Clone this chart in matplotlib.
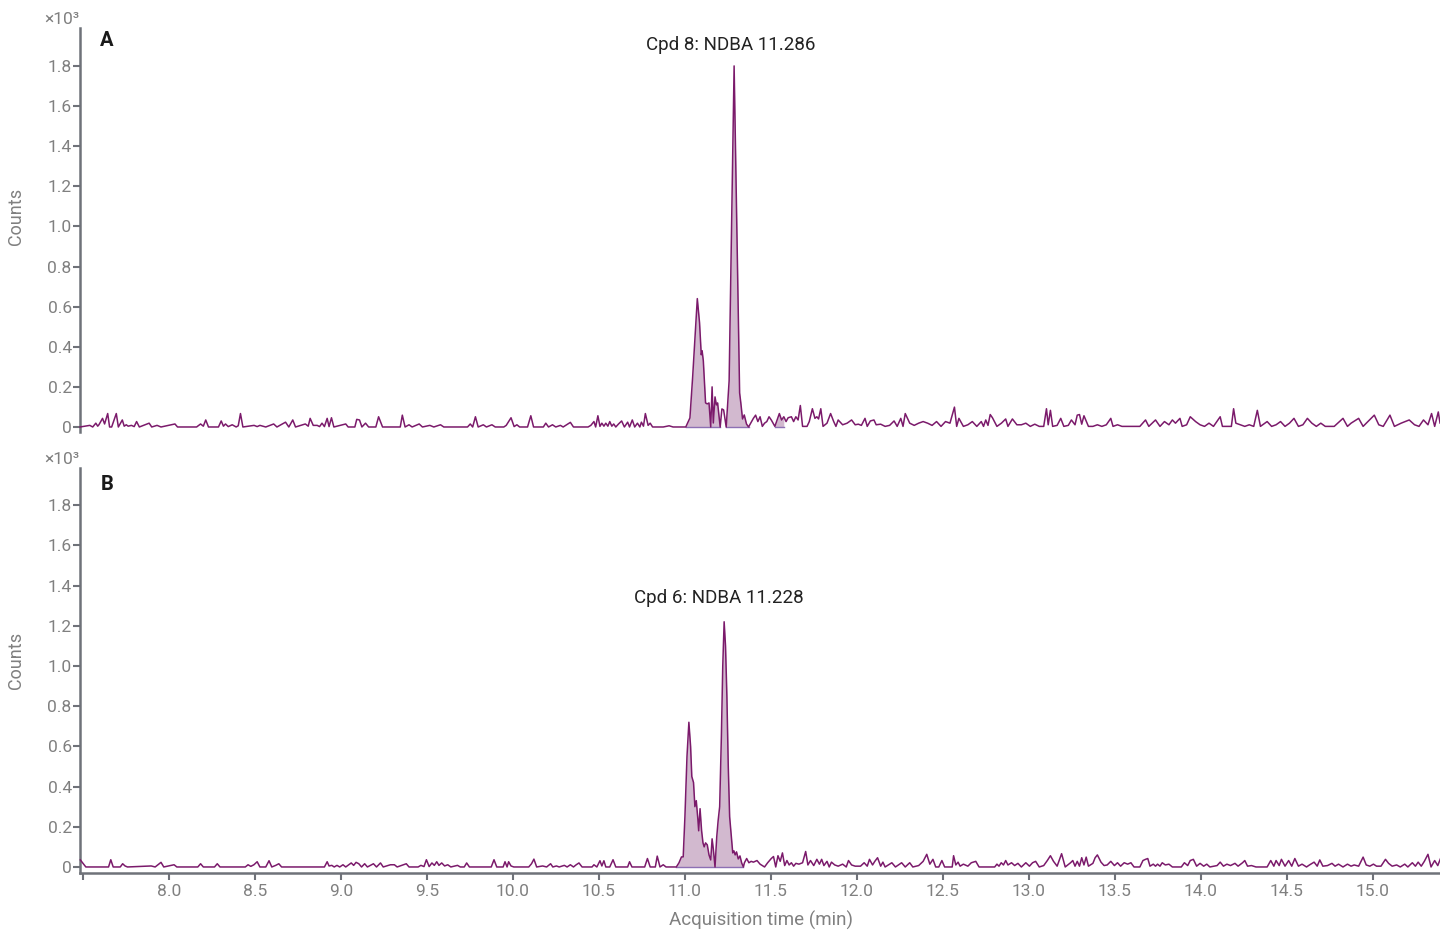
import numpy as np
import matplotlib
matplotlib.use("Agg")
import matplotlib.pyplot as plt

plt.rcParams['font.family'] = ['Roboto', 'DejaVu Sans']

# ---------------- Panel A (Cpd 8: NDBA) ----------------
a_noise_left_t = [7.483, 7.54, 7.557, 7.575, 7.586, 7.593, 7.614, 7.626, 7.644, 7.655, 7.667, 7.694, 7.706,
                  7.729, 7.74, 7.752, 7.763, 7.782, 7.798, 7.812, 7.828, 7.885, 7.9, 7.931, 7.954, 8.035, 8.05,
                  8.161, 8.184, 8.2, 8.214, 8.23, 8.288, 8.304, 8.317, 8.329, 8.345, 8.368, 8.391, 8.403, 8.416,
                  8.43, 8.495, 8.513, 8.529, 8.563, 8.609, 8.628, 8.678, 8.697, 8.72, 8.736, 8.793, 8.81, 8.821,
                  8.839, 8.862, 8.876, 8.89, 8.904, 8.92, 8.931, 8.945, 8.959, 9.028, 9.042, 9.081, 9.092, 9.108,
                  9.122, 9.143, 9.161, 9.203, 9.219, 9.242, 9.345, 9.357, 9.373, 9.396, 9.414, 9.455, 9.474, 9.517,
                  9.54, 9.579, 9.598, 9.736, 9.752, 9.766, 9.782, 9.798, 9.828, 9.846, 9.878, 9.897, 9.947, 9.961,
                  9.989, 10.007, 10.023, 10.039, 10.085, 10.104, 10.12, 10.177, 10.191, 10.207, 10.23, 10.249,
                  10.276, 10.292, 10.334, 10.352, 10.437, 10.453, 10.471, 10.481, 10.494, 10.506, 10.517, 10.529,
                  10.54, 10.552, 10.563, 10.575, 10.586, 10.598, 10.614, 10.632, 10.648, 10.667, 10.678, 10.694,
                  10.708, 10.724, 10.738, 10.747, 10.759, 10.77, 10.786, 10.798, 10.812, 10.874, 10.908, 10.931,
                  10.98]
a_noise_left_c = [0, 8, 0, 19, 4, 11, 43, 15, 67, 0, 0, 67, 0,
                  35, 4, 11, 4, 8, 2, 27, 0, 19, 0, 8, 0, 15, 0,
                  0, 15, 4, 35, 0, 0, 30, 4, 15, 2, 11, 0, 6, 67,
                  0, 8, 2, 8, 0, 15, 0, 24, 0, 35, 0, 15, 4, 43,
                  8, 8, 2, 19, 2, 43, 2, 46, 0, 15, 0, 0, 38, 35,
                  0, 19, 0, 0, 51, 0, 0, 59, 0, 11, 0, 15, 0, 8,
                  0, 11, 0, 0, 15, 0, 51, 0, 11, 0, 11, 0, 0, 8,
                  46, 2, 11, 0, 0, 56, 0, 0, 19, 0, 11, 0,
                  8, 0, 23, 0, 0, 8, 27, 0, 56, 3, 19, 4,
                  19, 4, 27, 4, 15, 0, 15, 30, 0, 24, 0, 35,
                  0, 19, 0, 24, 4, 67, 8, 19, 0, 0, 6, 0,
                  0]

a_peak_t = [11.005, 11.029, 11.045, 11.06, 11.072, 11.085, 11.095, 11.10, 11.107, 11.115, 11.12, 11.13,
            11.14, 11.15, 11.158, 11.165, 11.175, 11.183, 11.19, 11.205, 11.215, 11.225, 11.24, 11.257,
            11.286, 11.318, 11.325, 11.335, 11.345, 11.358, 11.37]
a_peak_c = [0, 45, 250, 470, 640, 520, 360, 380, 330, 200, 120, 115,
            120, 0, 200, 20, 150, 110, 120, 0, 90, 85, 0, 230,
            1800, 170, 120, 40, 60, 15, 0]

a_noise_right_t = [11.398, 11.411, 11.424, 11.437, 11.45, 11.463, 11.476, 11.489, 11.502, 11.523, 11.549, 11.562,
                   11.575, 11.588, 11.6, 11.619, 11.632, 11.645, 11.658, 11.671, 11.684, 11.71, 11.723, 11.741,
                   11.756, 11.767, 11.777, 11.79, 11.803, 11.826, 11.847, 11.865, 11.878, 11.891, 11.917, 11.943,
                   11.969, 11.99, 12.008, 12.026, 12.047, 12.06, 12.078, 12.099, 12.112, 12.138, 12.164, 12.19,
                   12.216, 12.234, 12.255, 12.268, 12.281, 12.307, 12.333, 12.359, 12.385, 12.411, 12.437, 12.463,
                   12.489, 12.515, 12.541, 12.567, 12.58, 12.593, 12.619, 12.645, 12.671, 12.697, 12.723, 12.736,
                   12.749, 12.762, 12.775, 12.788, 12.814, 12.84, 12.865, 12.878, 12.904, 12.93, 12.956, 12.982,
                   13.008, 13.034, 13.06, 13.086, 13.102, 13.112, 13.125, 13.138, 13.164, 13.185, 13.203, 13.229,
                   13.247, 13.268, 13.281, 13.294, 13.307, 13.32, 13.346, 13.372, 13.398, 13.424, 13.45, 13.476,
                   13.489, 13.515, 13.541, 13.645, 13.678, 13.697, 13.736, 13.762, 13.788, 13.814, 13.834, 13.852,
                   13.878, 13.891, 13.917, 13.938, 13.969, 13.995, 14.021, 14.047, 14.073, 14.112, 14.125, 14.177,
                   14.19, 14.203, 14.255, 14.281, 14.307, 14.328, 14.346, 14.385, 14.411, 14.437, 14.463, 14.489,
                   14.515, 14.541, 14.567, 14.593, 14.619, 14.645, 14.671, 14.697, 14.723, 14.775, 14.826, 14.852,
                   14.873, 14.917, 14.943, 15.008, 15.034, 15.06, 15.099, 15.125, 15.164, 15.211, 15.242, 15.268,
                   15.294, 15.32, 15.341, 15.359, 15.38, 15.39]
a_noise_right_c = [43, 59, 27, 51, 3, 19, 27, 51, 35, 3, 67, 35,
                   51, 27, 46, 51, 27, 51, 35, 107, 3, 3, 27, 91,
                   43, 51, 40, 91, 3, 19, 67, 27, 3, 35, 11, 19,
                   35, 11, 14, 8, 43, 3, 30, 35, 11, 14, 3, 8,
                   30, 3, 43, 3, 67, 19, 8, 19, 27, 19, 8, 27,
                   3, 27, 19, 99, 3, 43, 3, 11, 27, 3, 27, 3,
                   35, 8, 62, 46, 3, 19, 40, 3, 40, 11, 11, 19,
                   3, 14, 3, 3, 91, 11, 83, 3, 8, 43, 3, 8,
                   35, 11, 59, 62, 14, 56, 3, 3, 11, 3, 11, 43,
                   3, 11, 3, 3, 35, 3, 35, 3, 27, 11, 35, 19,
                   43, 3, 11, 51, 27, 11, 3, 19, 3, 51, 3, 3,
                   91, 19, 3, 11, 3, 83, 3, 27, 3, 11, 27, 3,
                   19, 43, 3, 11, 43, 19, 3, 19, 3, 3, 43, 3,
                   19, 43, 3, 59, 11, 3, 59, 3, 19, 35, 11, 3,
                   35, 11, 67, 3, 75, 20]

# ---------------- Panel B (Cpd 6: NDBA) ----------------
b_noise_left_t = [7.485, 7.517, 7.649, 7.662, 7.676, 7.717, 7.731, 7.745, 7.759, 7.897, 7.92, 7.954, 7.97,
                  8.03, 8.046, 8.168, 8.184, 8.2, 8.265, 8.281, 8.297, 8.444, 8.46, 8.476, 8.494, 8.513, 8.529,
                  8.563, 8.582, 8.598, 8.621, 8.639, 8.655, 8.904, 8.92, 8.931, 8.947, 8.961, 8.977, 8.993,
                  9.012, 9.028, 9.046, 9.06, 9.074, 9.088, 9.104, 9.12, 9.138, 9.154, 9.189, 9.207, 9.23, 9.246,
                  9.288, 9.311, 9.327, 9.38, 9.396, 9.449, 9.465, 9.483, 9.497, 9.513, 9.529, 9.543, 9.557, 9.57,
                  9.586, 9.603, 9.621, 9.639, 9.678, 9.694, 9.717, 9.731, 9.747, 9.874, 9.89, 9.906, 9.943,
                  9.954, 9.966, 9.975, 9.989, 10.005, 10.092, 10.108, 10.122, 10.138, 10.173, 10.196, 10.219,
                  10.232, 10.253, 10.269, 10.299, 10.315, 10.334, 10.352, 10.368, 10.384, 10.402, 10.46, 10.471,
                  10.488, 10.506, 10.517, 10.529, 10.54, 10.563, 10.582, 10.598, 10.667, 10.678, 10.692, 10.766,
                  10.782, 10.798, 10.828, 10.839, 10.855, 10.874, 10.89, 10.943]
b_noise_left_c = [35, 0, 0, 36, 0, 0, 16, 5, 0, 5, 0, 23, 0,
                  11, 0, 0, 16, 0, 0, 16, 0, 0, 11, 3, 11, 26, 0,
                  0, 31, 0, 8, 16, 0, 0, 26, 5, 8, 0, 8, 0,
                  11, 0, 11, 20, 8, 23, 16, 0, 16, 0, 16, 0, 20, 0,
                  11, 11, 0, 16, 0, 0, 8, 2, 36, 2, 20, 8, 26, 8,
                  20, 5, 11, 0, 8, 0, 0, 20, 0, 0, 36, 0, 0,
                  26, 0, 26, 5, 0, 0, 16, 39, 0, 5, 0, 16,
                  0, 5, 0, 8, 0, 11, 0, 11, 20, 0, 0, 11,
                  0, 31, 5, 31, 0, 0, 36, 0, 0, 26, 0, 0,
                  42, 0, 0, 54, 0, 11, 0, 0]

b_peak_t = [10.95, 10.965, 10.98, 10.99, 11.0, 11.012, 11.023, 11.033, 11.04, 11.05, 11.058, 11.066, 11.075,
            11.08, 11.088, 11.097, 11.105, 11.112, 11.12, 11.13, 11.14, 11.15, 11.158, 11.165, 11.175, 11.185,
            11.193, 11.202, 11.212, 11.22, 11.228, 11.236, 11.244, 11.252, 11.26, 11.27, 11.278, 11.285, 11.292,
            11.30, 11.31, 11.32, 11.33, 11.34]
b_peak_c = [0, 20, 50, 50, 250, 550, 720, 600, 450, 420, 300, 330, 240,
            180, 290, 180, 120, 100, 120, 110, 60, 35, 140, 90, 0, 150,
            230, 300, 650, 1000, 1220, 1100, 850, 500, 250, 150, 70, 80, 60,
            75, 40, 55, 20, 0]

b_noise_right_t = [11.346, 11.359, 11.372, 11.385, 11.398, 11.419, 11.437, 11.463, 11.481, 11.502, 11.515, 11.528,
                   11.541, 11.554, 11.567, 11.58, 11.593, 11.606, 11.619, 11.632, 11.645, 11.663, 11.684, 11.702,
                   11.715, 11.73, 11.749, 11.767, 11.782, 11.795, 11.808, 11.826, 11.839, 11.852, 11.871, 11.891,
                   11.917, 11.938, 11.951, 11.969, 11.99, 12.021, 12.042, 12.06, 12.073, 12.091, 12.104, 12.12,
                   12.138, 12.151, 12.164, 12.203, 12.224, 12.26, 12.281, 12.307, 12.325, 12.359, 12.385, 12.406,
                   12.424, 12.442, 12.458, 12.476, 12.494, 12.51, 12.554, 12.562, 12.575, 12.588, 12.6, 12.619,
                   12.645, 12.665, 12.691, 12.71, 12.801, 12.814, 12.826, 12.839, 12.852, 12.865, 12.878, 12.899,
                   12.917, 12.936, 12.956, 12.982, 13.003, 13.021, 13.039, 13.06, 13.086, 13.107, 13.125, 13.143,
                   13.164, 13.19, 13.211, 13.242, 13.255, 13.268, 13.281, 13.294, 13.307, 13.32, 13.333, 13.346,
                   13.372, 13.385, 13.398, 13.419, 13.437, 13.455, 13.476, 13.497, 13.515, 13.533, 13.554, 13.574,
                   13.593, 13.611, 13.645, 13.663, 13.678, 13.691, 13.704, 13.723, 13.736, 13.748, 13.762, 13.775,
                   13.793, 13.814, 13.834, 13.886, 13.904, 13.923, 13.938, 13.956, 13.975, 13.995, 14.016, 14.034,
                   14.052, 14.094, 14.112, 14.131, 14.151, 14.172, 14.198, 14.216, 14.242, 14.255, 14.271, 14.294,
                   14.32, 14.385, 14.406, 14.424, 14.437, 14.455, 14.468, 14.489, 14.51, 14.528, 14.546, 14.567,
                   14.588, 14.614, 14.631, 14.658, 14.676, 14.691, 14.709, 14.736, 14.762, 14.78, 14.8, 14.826,
                   14.852, 14.873, 14.891, 14.917, 14.943, 14.961, 14.982, 15.003, 15.021, 15.047, 15.073, 15.091,
                   15.112, 15.138, 15.159, 15.185, 15.203, 15.229, 15.247, 15.263, 15.281, 15.299, 15.32, 15.338,
                   15.359, 15.377, 15.393]
b_noise_right_c = [21, 42, 21, 28, 24, 32, 14, 0, 21, 42, 52, 0,
                   56, 28, 70, 7, 32, 10, 21, 4, 18, 14, 21, 77,
                   10, 32, 7, 38, 14, 38, 7, 28, 0, 24, 10, 4,
                   14, 0, 32, 10, 4, 4, 21, 4, 38, 10, 28, 46,
                   4, 24, 0, 21, 0, 21, 0, 21, 0, 7, 28, 63,
                   14, 38, 0, 0, 32, 0, 0, 56, 10, 24, 4, 14,
                   4, 21, 28, 0, 0, 14, 4, 21, 10, 32, 10, 21,
                   7, 18, 0, 21, 4, 21, 28, 0, 7, 32, 56, 28,
                   4, 66, 0, 21, 32, 4, 28, 4, 46, 10, 49, 4,
                   18, 46, 60, 24, 7, 10, 28, 7, 21, 4, 21, 14,
                   21, 0, 0, 32, 38, 42, 4, 14, 4, 14, 4, 21,
                   10, 14, 0, 0, 21, 7, 32, 38, 4, 18, 4, 14,
                   0, 7, 24, 4, 14, 7, 18, 4, 21, 32, 4, 7,
                   0, 0, 32, 4, 32, 7, 38, 4, 32, 4, 42, 4,
                   14, 0, 10, 24, 4, 35, 4, 7, 18, 4, 14, 0,
                   14, 4, 10, 4, 49, 10, 4, 14, 4, 4, 38, 18,
                   4, 10, 0, 14, 0, 21, 4, 24, 4, 28, 63, 0,
                   32, 7, 42]

# integration (filled) regions
a_fill_ranges = [(11.005, 11.205), (11.24, 11.37), (11.523, 11.575)]
b_fill_ranges = [(10.95, 11.34)]

a_label = "Cpd 8: NDBA 11.286"
b_label = "Cpd 6: NDBA 11.228"
y_ticks = [0, 200, 400, 600, 800, 1000, 1200, 1400, 1600, 1800]
y_ticklabels = ["0", "0.2", "0.4", "0.6", "0.8", "1.0", "1.2", "1.4", "1.6", "1.8"]
x_ticks = [7.5, 8.0, 8.5, 9.0, 9.5, 10.0, 10.5, 11.0, 11.5, 12.0, 12.5, 13.0, 13.5, 14.0, 14.5, 15.0]
x_ticklabels = ["", "8.0", "8.5", "9.0", "9.5", "10.0", "10.5", "11.0", "11.5", "12.0", "12.5",
                "13.0", "13.5", "14.0", "14.5", "15.0"]

LINE = "#7b1a6b"
FILL = "#d2b9cf"
BASE = "#8d70b4"
SPINE = "#6f7279"
TICKLAB = "#808080"

W, H = 1440, 930
fig = plt.figure(figsize=(W / 100, H / 100), dpi=100)
ax1 = fig.add_axes([80 / W, 1 - 432 / H, 1 - 80 / W, 404 / H])
ax2 = fig.add_axes([80 / W, 1 - 873 / H, 1 - 80 / W, 405 / H])


def draw(ax, t, c, fills, ylim):
    t = np.asarray(t, dtype=float)
    c = np.asarray(c, dtype=float)
    for a, b in fills:
        m = (t >= a - 1e-9) & (t <= b + 1e-9)
        ax.fill_between(t[m], 0, c[m], color=FILL, lw=0, zorder=1)
        ax.plot([a, b], [0, 0], color=BASE, lw=1.0, zorder=2)
    ax.plot(t, c, color=LINE, lw=1.1, zorder=3, clip_on=False)
    ax.set_xlim(7.483, 15.39)
    ax.set_ylim(*ylim)
    ax.set_yticks(y_ticks)
    ax.set_yticklabels(y_ticklabels)
    for s in ("top", "right"):
        ax.spines[s].set_visible(False)
    ax.spines["left"].set_color(SPINE)
    ax.spines["left"].set_linewidth(1.8)
    ax.tick_params(axis="y", direction="out", length=5, width=1.5, color=SPINE,
                   labelcolor=TICKLAB, labelsize=12.5, pad=1)


ta = a_noise_left_t + a_peak_t + a_noise_right_t
ca = a_noise_left_c + a_peak_c + a_noise_right_c
tb = b_noise_left_t + b_peak_t + b_noise_right_t
cb = b_noise_left_c + b_peak_c + b_noise_right_c

draw(ax1, ta, ca, a_fill_ranges, (-25, 1989))
draw(ax2, tb, cb, b_fill_ranges, (-30, 1985))

ax1.spines["bottom"].set_visible(False)
ax1.set_xticks([])

ax2.spines["bottom"].set_color(SPINE)
ax2.spines["bottom"].set_linewidth(1.8)
ax2.set_xticks(x_ticks)
ax2.set_xticklabels(x_ticklabels)
ax2.tick_params(axis="x", direction="out", length=5, width=1.5, color=SPINE,
                labelcolor=TICKLAB, labelsize=12.5, pad=3)

ax1.text(11.267, 1904, a_label, ha="center", va="center", fontsize=13.5, color="#222222")
ax2.text(11.198, 1338, b_label, ha="center", va="center", fontsize=13.5, color="#222222")

for ypx in (20, 459):
    fig.text(79 / W, 1 - ypx / H, "×10³", ha="right", va="center", fontsize=12.5, color=TICKLAB)
fig.text(107 / W, 1 - 40 / H, "A", ha="center", va="center", fontsize=14.5, fontweight="bold", color="#1a1a1a")
fig.text(107 / W, 1 - 484 / H, "B", ha="center", va="center", fontsize=14.5, fontweight="bold", color="#1a1a1a")
fig.text(16 / W, 1 - 216 / H, "Counts", rotation=90, ha="center", va="center", fontsize=13, color=TICKLAB)
fig.text(16 / W, 1 - 660 / H, "Counts", rotation=90, ha="center", va="center", fontsize=13, color=TICKLAB)
fig.text(761 / W, 1 - 920 / H, "Acquisition time (min)", ha="center", va="center", fontsize=13.5, color=TICKLAB)

fig.savefig("out.png", dpi=100)
